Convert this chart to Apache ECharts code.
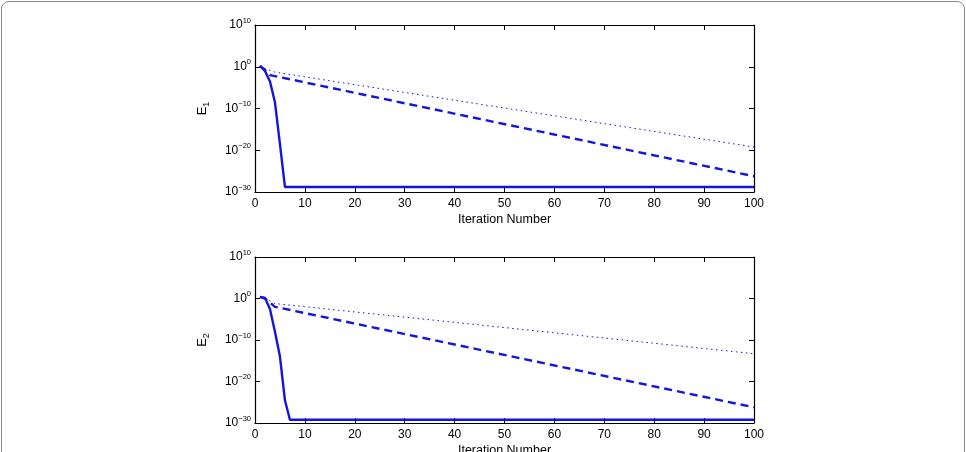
<!DOCTYPE html>
<html>
<head>
<meta charset="utf-8">
<script src="https://cdn.jsdelivr.net/npm/echarts@6/dist/echarts.min.js"></script>
<style>
  body { margin: 0; background: #fff; }
  #frame { position: absolute; left: 1px; top: 1px; width: 962px; height: 470px;
           border: 1px solid #8c8c8c; border-radius: 8px; }
  #chart { position: absolute; left: 0; top: 0; width: 966px; height: 452px; }
</style>
</head>
<body>
<div id="frame"></div>
<div id="chart"></div>
<script>
// axis ranges: x linear, y as powers of ten
const xTicks = [0, 10, 20, 30, 40, 50, 60, 70, 80, 90, 100];
const yExpTicks = [-30, -20, -10, 0, 10];

// upper panel (E1)
const e1SolidX = [1, 2, 3, 4, 5, 6, 100];
const e1SolidY = [1.6, 0.1, 3e-4, 3e-9, 3e-19, 1.6e-29, 1.6e-29];
const e1DashX = [1, 2, 3, 100];
const e1DashY = [1.6, 0.16, 0.01, 6e-27];
const e1DotX = [1, 2, 4, 100];
const e1DotY = [1.6, 0.4, 0.05, 6e-20];

// lower panel (E2)
const e2SolidX = [1, 2, 3, 4, 5, 6, 7, 100];
const e2SolidY = [2.5, 1.3, 3e-3, 1e-8, 1e-14, 3e-25, 6e-30, 6e-30];
const e2DashX = [1, 2, 4, 100];
const e2DashY = [2.5, 1, 0.01, 6e-27];
const e2DotX = [1, 2, 4, 100];
const e2DotY = [2.5, 1.3, 0.06, 5e-14];

const blue = '#1414e0';
const font = 'Liberation Sans';

// y plotted on a log10 scale
function pairs(xs, ys) { return xs.map((x, i) => [x, Math.log10(ys[i])]); }

function yLabel(e) {
  let s = e < 0 ? '\u2212' + (-e) : '' + e;
  return '{b|10}{s|' + s + '}';
}

const grids = [
  { left: 255, top: 25, width: 499, height: 167, outerBoundsMode: 'none', containLabel: false },
  { left: 255, top: 257, width: 499, height: 166, outerBoundsMode: 'none', containLabel: false }
];

let xAxes = [], yAxes = [], series = [];
const names = ['1', '2'];
const sets = [
  [pairs(e1SolidX, e1SolidY), pairs(e1DashX, e1DashY), pairs(e1DotX, e1DotY)],
  [pairs(e2SolidX, e2SolidY), pairs(e2DashX, e2DashY), pairs(e2DotX, e2DotY)]
];

grids.forEach((g, i) => {
  const axLine = { onZero: false, lineStyle: { color: '#000', width: 1.2 } };
  const tick = { inside: true, length: 5, lineStyle: { color: '#000' } };
  xAxes.push({
    gridIndex: i, type: 'value', min: xTicks[0], max: xTicks[xTicks.length - 1], interval: 10,
    axisLine: axLine, axisTick: tick, splitLine: { show: false },
    axisLabel: { color: '#000', fontFamily: font, fontSize: 12, margin: 6 },
    name: 'Iteration Number', nameLocation: 'middle', nameGap: 21,
    nameTextStyle: { color: '#000', fontFamily: font, fontSize: 12.5 }
  });
  xAxes.push({
    gridIndex: i, type: 'value', position: 'top', min: 0, max: 100, interval: 10,
    axisLine: axLine, axisTick: tick, splitLine: { show: false }, axisLabel: { show: false }
  });
  yAxes.push({
    gridIndex: i, type: 'value', min: yExpTicks[0], max: yExpTicks[yExpTicks.length - 1], interval: 10,
    axisLine: Object.assign({ show: true }, axLine), axisTick: tick,
    splitLine: { show: false },
    axisLabel: {
      formatter: yLabel, margin: 4, fontFamily: font,
      rich: {
        b: { fontSize: 12, color: '#000', fontFamily: font },
        s: { fontSize: 7.5, color: '#000', fontFamily: font, padding: [0, 0, 9, 0] }
      }
    },
    name: '{e|E}{s|' + names[i] + '}', nameLocation: 'middle', nameGap: 44, nameRotate: 90,
    nameMoveOverlap: false,
    nameTextStyle: {
      color: '#000', fontFamily: font, fontSize: 13,
      rich: {
        e: { fontSize: 13, color: '#000', fontFamily: font },
        s: { fontSize: 9, color: '#000', fontFamily: font, padding: [8, 0, 0, 0] }
      }
    }
  });
  yAxes.push({
    gridIndex: i, type: 'value', position: 'right', min: -30, max: 10, interval: 10,
    axisLine: Object.assign({ show: true }, axLine), axisTick: tick,
    splitLine: { show: false }, axisLabel: { show: false }
  });

  const [solid, dash, dot] = sets[i];
  const base = { type: 'line', xAxisIndex: i * 2, yAxisIndex: i * 2, showSymbol: false };
  series.push(Object.assign({}, base, { data: solid, lineStyle: { color: blue, width: 2.4 } }));
  series.push(Object.assign({}, base, { data: dash, lineStyle: { color: blue, width: 2.4, type: [8, 5] } }));
  series.push(Object.assign({}, base, { data: dot, lineStyle: { color: blue, width: 1, type: [1.5, 3.5] } }));
});

const chart = echarts.init(document.getElementById('chart'));
chart.setOption({
  animation: false,
  grid: grids,
  xAxis: xAxes,
  yAxis: yAxes,
  series: series
});
</script>
</body>
</html>
